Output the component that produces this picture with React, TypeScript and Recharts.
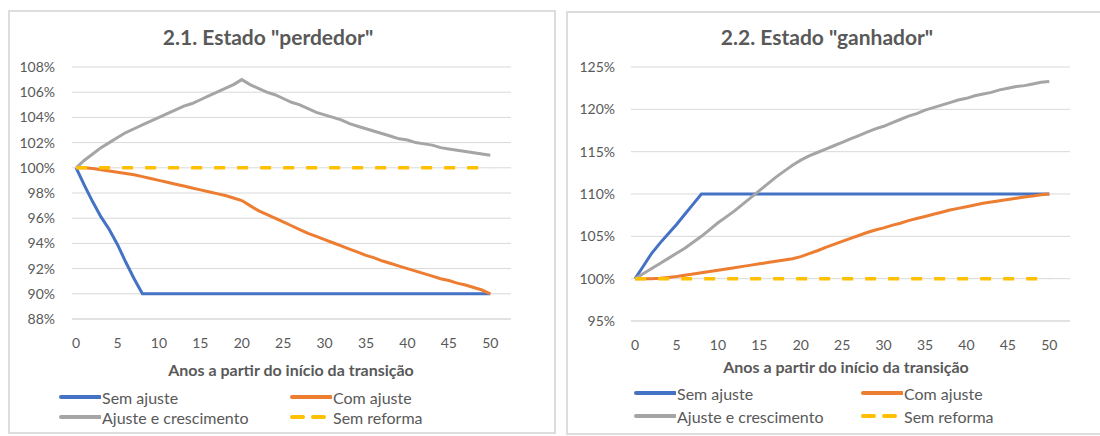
import { LineChart, Line, XAxis, YAxis, CartesianGrid } from 'recharts';

const X_TICKS = [0, 5, 10, 15, 20, 25, 30, 35, 40, 45, 50];

// 2.1. Estado "perdedor"
const LOSER_TICKS = [88, 90, 92, 94, 96, 98, 100, 102, 104, 106, 108];
const LOSER_SEM_AJUSTE = [
  100, 98.6, 97.3, 96.1, 95.1, 93.9, 92.5, 91.2, 90, 90,
  90, 90, 90, 90, 90, 90, 90, 90, 90, 90,
  90, 90, 90, 90, 90, 90, 90, 90, 90, 90,
  90, 90, 90, 90, 90, 90, 90, 90, 90, 90,
  90, 90, 90, 90, 90, 90, 90, 90, 90, 90,
  90,
];
const LOSER_COM_AJUSTE = [
  100, 100, 99.95, 99.85, 99.75, 99.65, 99.55, 99.45, 99.3, 99.15,
  99.0, 98.85, 98.7, 98.55, 98.4, 98.25, 98.1, 97.95, 97.8, 97.6,
  97.4, 97.0, 96.6, 96.3, 96.0, 95.7, 95.4, 95.1, 94.8, 94.55,
  94.3, 94.05, 93.8, 93.55, 93.3, 93.05, 92.85, 92.6, 92.4, 92.2,
  92.0, 91.8, 91.6, 91.4, 91.2, 91.05, 90.85, 90.7, 90.5, 90.3,
  90.0,
];
const LOSER_AJUSTE_CRESC = [
  100, 100.6, 101.1, 101.6, 102.0, 102.4, 102.8, 103.1, 103.4, 103.7,
  104.0, 104.3, 104.6, 104.9, 105.1, 105.4, 105.7, 106.0, 106.3, 106.6,
  107.0, 106.6, 106.3, 106.0, 105.8, 105.5, 105.2, 105.0, 104.7, 104.4,
  104.2, 104.0, 103.8, 103.5, 103.3, 103.1, 102.9, 102.7, 102.5, 102.3,
  102.2, 102.0, 101.9, 101.8, 101.6, 101.5, 101.4, 101.3, 101.2, 101.1,
  101.0,
];

// 2.2. Estado "ganhador"
const WINNER_TICKS = [95, 100, 105, 110, 115, 120, 125];
const WINNER_SEM_AJUSTE = [
  100, 101.5, 103, 104.2, 105.3, 106.4, 107.6, 108.8, 110, 110,
  110, 110, 110, 110, 110, 110, 110, 110, 110, 110,
  110, 110, 110, 110, 110, 110, 110, 110, 110, 110,
  110, 110, 110, 110, 110, 110, 110, 110, 110, 110,
  110, 110, 110, 110, 110, 110, 110, 110, 110, 110,
  110,
];
const WINNER_COM_AJUSTE = [
  100, 100, 100, 100.05, 100.15, 100.25, 100.4, 100.55, 100.7, 100.85,
  101.0, 101.15, 101.3, 101.45, 101.6, 101.75, 101.9, 102.05, 102.2, 102.35,
  102.6, 102.95, 103.3, 103.7, 104.05, 104.4, 104.75, 105.1, 105.45, 105.75,
  106.0, 106.3, 106.55, 106.85, 107.1, 107.35, 107.6, 107.85, 108.1, 108.3,
  108.5, 108.7, 108.9, 109.05, 109.2, 109.35, 109.5, 109.65, 109.75, 109.9,
  110.0,
];
const WINNER_AJUSTE_CRESC = [
  100, 100.6, 101.2, 101.8, 102.4, 103.0, 103.6, 104.3, 105.0, 105.8,
  106.6, 107.3, 108.0, 108.8, 109.6, 110.4, 111.2, 112.0, 112.7, 113.4,
  114.0, 114.5, 114.9, 115.3, 115.7, 116.1, 116.5, 116.9, 117.3, 117.7,
  118.0, 118.4, 118.8, 119.2, 119.5, 119.9, 120.2, 120.5, 120.8, 121.1,
  121.3, 121.6, 121.8, 122.0, 122.3, 122.5, 122.7, 122.8, 123.0, 123.2,
  123.3,
];
const SEM_REFORMA = [
  100, 100, 100, 100, 100, 100, 100, 100, 100, 100,
  100, 100, 100, 100, 100, 100, 100, 100, 100, 100,
  100, 100, 100, 100, 100, 100, 100, 100, 100, 100,
  100, 100, 100, 100, 100, 100, 100, 100, 100, 100,
  100, 100, 100, 100, 100, 100, 100, 100, 100, 100,
  100,
];

const FONT = 'Lato, "Open Sans", sans-serif';
const TEXT = '#595959';
const BLUE = '#4472C4';
const ORANGE = '#ED7D31';
const GRAY = '#A5A5A5';
const YELLOW = '#FFC000';

const buildRows = (sem: number[], com: number[], cresc: number[]) =>
  sem.map((v, i) => ({ year: i, sem: v, com: com[i], cresc: cresc[i], reforma: SEM_REFORMA[i] }));

function LegendItem({ x, y, color, label, dashed }: { x: number; y: number; color: string; label: string; dashed?: boolean }) {
  return (
    <div style={{ position: 'absolute', left: x, top: y - 10, height: 20, display: 'flex', alignItems: 'center' }}>
      <svg width={42} height={6} style={{ marginRight: 1 }}>
        <line x1={2} y1={3} x2={41} y2={3} stroke={color} strokeWidth={4} strokeDasharray={dashed ? '11 10' : undefined} strokeLinecap="round" />
      </svg>
      <span style={{ fontSize: 16, color: TEXT, fontFamily: FONT, whiteSpace: 'nowrap' }}>{label}</span>
    </div>
  );
}

interface PanelProps {
  title: string;
  titleX: number;
  axisTitleX: number;
  axisTitleY: number;
  box: { left: number; top: number; width: number; height: number };
  margin: { top: number; right: number; bottom: number; left: number };
  rows: ReturnType<typeof buildRows>;
  ticks: number[];
  yTickMargin: number;
  legendX: [number, number];
  legendY: [number, number];
}

function Panel({ title, titleX, axisTitleX, axisTitleY, box, margin, rows, ticks, yTickMargin, legendX, legendY }: PanelProps) {
  return (
    <>
      <div
        style={{
          position: 'absolute',
          left: box.left,
          top: box.top,
          width: box.width,
          height: box.height,
          border: '2px solid #DDDDDD',
          boxSizing: 'border-box',
        }}
      />
      <div style={{ position: 'absolute', left: box.left, top: box.top }}>
        <LineChart width={box.width} height={box.height} data={rows} margin={margin}>
          <CartesianGrid vertical={false} stroke="#D9D9D9" />
          <XAxis
            dataKey="year"
            type="number"
            domain={[-0.5, 52.5]}
            ticks={X_TICKS}
            interval={0}
            tickLine={false}
            axisLine={{ stroke: '#D9D9D9' }}
            tickMargin={13}
            height={30}
            tick={{ fill: TEXT, fontSize: 14, fontFamily: FONT }}
          />
          <YAxis
            domain={[ticks[0], ticks[ticks.length - 1]]}
            ticks={ticks}
            interval={0}
            tickFormatter={(v) => `${v}%`}
            axisLine={false}
            tickLine={false}
            tickMargin={yTickMargin}
            width={50}
            tick={{ fill: TEXT, fontSize: 14, fontFamily: FONT }}
          />
          <Line dataKey="sem" stroke={BLUE} strokeWidth={3} dot={false} isAnimationActive={false} />
          <Line dataKey="com" stroke={ORANGE} strokeWidth={3} dot={false} isAnimationActive={false} />
          <Line dataKey="cresc" stroke={GRAY} strokeWidth={3} dot={false} isAnimationActive={false} />
          <Line dataKey="reforma" stroke={YELLOW} strokeWidth={3.5} strokeDasharray="11 12" dot={false} isAnimationActive={false} />
        </LineChart>
      </div>
      <div
        style={{
          position: 'absolute',
          left: titleX,
          top: 24,
          transform: 'translateX(-50%)',
          fontSize: 21,
          fontWeight: 700,
          color: TEXT,
          fontFamily: FONT,
          whiteSpace: 'nowrap',
        }}
      >
        {title}
      </div>
      <div
        style={{
          position: 'absolute',
          left: axisTitleX,
          top: axisTitleY - 10,
          transform: 'translateX(-50%)',
          fontSize: 16,
          fontWeight: 700,
          color: TEXT,
          fontFamily: FONT,
          whiteSpace: 'nowrap',
        }}
      >
        Anos a partir do início da transição
      </div>
      <LegendItem x={legendX[0]} y={legendY[0]} color={BLUE} label="Sem ajuste" />
      <LegendItem x={legendX[1]} y={legendY[0]} color={ORANGE} label="Com ajuste" />
      <LegendItem x={legendX[0]} y={legendY[1]} color={GRAY} label="Ajuste e crescimento" />
      <LegendItem x={legendX[1]} y={legendY[1]} color={YELLOW} label="Sem reforma" dashed />
    </>
  );
}

export default function App() {
  return (
    <div style={{ position: 'absolute', left: 0, top: 0, width: 1100, height: 436, background: '#fff', overflow: 'hidden' }}>
      <Panel
        title={'2.1. Estado "perdedor"'}
        titleX={268}
        axisTitleX={291}
        axisTitleY={370}
        box={{ left: 8, top: 10, width: 548, height: 424 }}
        margin={{ top: 57, right: 45, bottom: 85, left: 14 }}
        rows={buildRows(LOSER_SEM_AJUSTE, LOSER_COM_AJUSTE, LOSER_AJUSTE_CRESC)}
        ticks={LOSER_TICKS}
        yTickMargin={11}
        legendX={[59, 290]}
        legendY={[397, 417]}
      />
      <Panel
        title={'2.2. Estado "ganhador"'}
        titleX={827}
        axisTitleX={846}
        axisTitleY={367}
        box={{ left: 566, top: 11, width: 540, height: 424 }}
        margin={{ top: 56, right: 36, bottom: 84, left: 15 }}
        rows={buildRows(WINNER_SEM_AJUSTE, WINNER_COM_AJUSTE, WINNER_AJUSTE_CRESC)}
        ticks={WINNER_TICKS}
        yTickMargin={10}
        legendX={[634, 861]}
        legendY={[393, 416]}
      />
    </div>
  );
}
